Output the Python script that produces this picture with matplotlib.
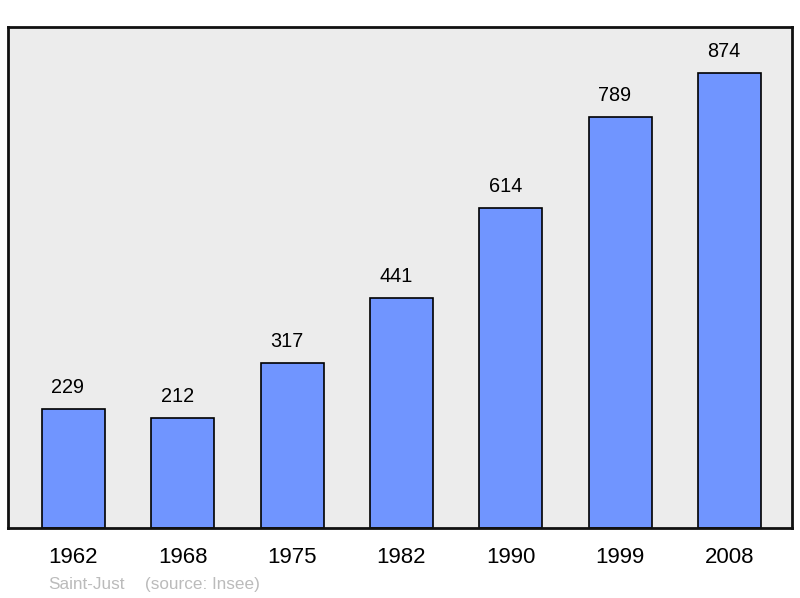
import matplotlib
matplotlib.use("Agg")
import matplotlib.pyplot as plt

# data
years = ["1962", "1968", "1975", "1982", "1990", "1999", "2008"]
population = [229, 212, 317, 441, 614, 789, 874]
commune = "Saint-Just"
source = "(source: Insee)"

plt.rcParams['font.family'] = ['Liberation Sans', 'DejaVu Sans']

fig = plt.figure(figsize=(8, 5.98), dpi=100)
ax = fig.add_axes([0.01, 0.1171, 0.98, 0.8378])
ax.set_facecolor('#ececec')

x = range(len(years))
bars = ax.bar(x, population, width=0.576, color='#7095ff', edgecolor='black', linewidth=1.2)

# value labels sit a bit left of the bar centre, like the original
for xi, v in zip(x, population):
    ax.annotate(str(v), (xi, v), xytext=(-4, 8.5), textcoords='offset points',
                ha='center', va='bottom', fontsize=14.3, color='black')

ax.set_xlim(-0.599, 6.572)
ax.set_ylim(0, 962)
ax.set_xticks(list(x))
ax.set_xticklabels(years, fontsize=16)
ax.tick_params(axis='x', length=0, pad=14)
ax.set_yticks([])
for s in ax.spines.values():
    s.set_linewidth(2)
    s.set_color('#111111')

fig.text(0.06, 0.0234, commune, fontsize=12.3, color='#bbbbbb', va='center')
fig.text(0.181, 0.0234, source, fontsize=12.3, color='#bbbbbb', va='center')

fig.savefig("out.png", dpi=100, facecolor='white')
